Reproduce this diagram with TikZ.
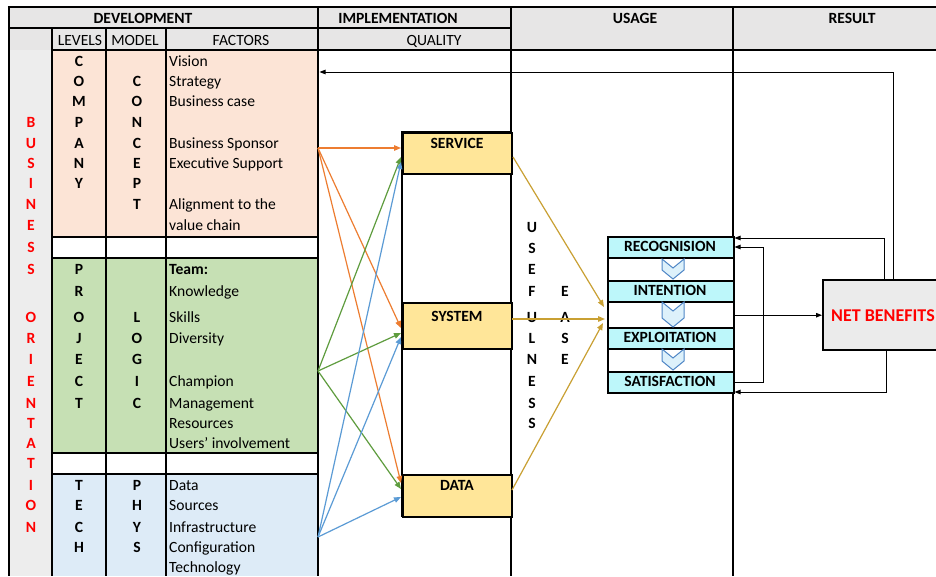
\documentclass[tikz,border=0pt]{standalone}
\usepackage{fontspec}
\setmainfont{Carlito}
\usetikzlibrary{arrows.meta,calc}
\definecolor{hdrgrey}{HTML}{E7E6E6}
\definecolor{sidegrey}{HTML}{EDEDED}
\definecolor{peach}{HTML}{FCE4D6}
\definecolor{leaf}{HTML}{C6E0B4}
\definecolor{sky}{HTML}{DDEBF7}
\definecolor{qualfill}{HTML}{FFE699}
\definecolor{aqua}{HTML}{BDF7FA}
\definecolor{chevfill}{HTML}{DDF1FB}
\definecolor{chevline}{HTML}{4F86C6}
\definecolor{orangeline}{HTML}{ED7D31}
\definecolor{greenline}{HTML}{5E9C3E}
\definecolor{blueline}{HTML}{5B9BD5}
\definecolor{goldline}{HTML}{C9A033}
\definecolor{alert}{HTML}{FF0000}
\definecolor{nbgrey}{HTML}{EBEBEB}
\newcommand\bodyfont{\fontsize{15.6pt}{18pt}\selectfont}
\begin{document}
\begin{tikzpicture}[x=1pt,y=-1pt,
  txt/.style={anchor=base,yshift=-5pt,inner sep=0pt,font=\bodyfont},
  btxt/.style={txt,font=\bodyfont\bfseries},
  ftxt/.style={txt,anchor=base west},
  redtxt/.style={btxt,text=alert},
  heavy/.style={line width=2.4pt},
  gridline/.style={line width=1.3pt},
  qualbox/.style={draw,line width=2.4pt,fill=qualfill,anchor=north west,minimum width=109pt,inner sep=0pt},
  stagebox/.style={draw,line width=2.4pt,fill=aqua,anchor=north west,minimum width=126pt,minimum height=21pt,inner sep=0pt},
  chev/.style={draw=chevline,fill=chevfill,line width=1pt,line join=miter},
  feed/.style={line width=1.2pt,-{Triangle[length=7pt,width=5.5pt]}},
  blk/.style={line width=1pt,black,-{Triangle[length=6pt,width=4.5pt]}}]
\useasboundingbox (0,0) rectangle (936,576);
\clip (0,0) rectangle (936,576);

% ---------- backgrounds ----------
\fill[hdrgrey] (9,7) rectangle (936,50);
\fill[sidegrey] (9,50) rectangle (52,576);
\fill[peach] (52,50) rectangle (318,237);
\fill[white] (52,237) rectangle (318,258);
\fill[leaf] (52,258) rectangle (318,453);
\fill[white] (52,453) rectangle (318,474);
\fill[sky] (52,474) rectangle (318,576);
\fill[white] (318,50) rectangle (936,576);

% ---------- table rules ----------
\draw[gridline] (52,28) -- (52,576);
\draw[gridline] (106,28) -- (106,576);
\draw[gridline] (166,28) -- (166,576);
\foreach \yy in {237,258,453,474}
  \draw[gridline] (52,\yy) -- (318,\yy);
\draw[heavy] (7.8,7) -- (936,7);
\draw[heavy] (9,7) -- (9,576);
\draw[heavy] (9,28) -- (511,28);
\draw[heavy] (52,50) -- (936,50);
\foreach \xx in {318,511,733}
  \draw[heavy] (\xx,7) -- (\xx,576);

% ---------- headers ----------
\node[btxt] (hdev) at (143,18) {DEVELOPMENT};
\node[btxt] (himp) at (398,18) {IMPLEMENTATION};
\node[btxt] (huse) at (635,18) {USAGE};
\node[btxt] (hres) at (852,18) {RESULT};
\node[txt] (hlev) at (80,40) {LEVELS};
\node[txt] (hmod) at (135,40) {MODEL};
\node[txt] (hfac) at (241,40) {FACTORS};
\node[txt] (hqual) at (434,40) {QUALITY};

% ---------- side title ----------
\foreach \ch/\yy [count=\i] in {B/122,U/143,S/163,I/183,N/204,E/225,S/247,S/269,
    O/317,R/338,I/359,E/381,N/403,T/423,A/443,T/463,I/485,O/505,N/527}
  \node[redtxt] (side\i) at (31,\yy) {\ch};

% ---------- levels ----------
\foreach \ch/\yy [count=\i] in {C/61,O/81,M/101,P/122,A/143,N/163,Y/183}
  \node[btxt] (company\i) at (79,\yy) {\ch};
\foreach \ch/\yy [count=\i] in {P/269,R/291,O/317,J/338,E/359,C/381,T/403}
  \node[btxt] (project\i) at (79,\yy) {\ch};
\foreach \ch/\yy [count=\i] in {T/485,E/505,C/527,H/547}
  \node[btxt] (tech\i) at (79,\yy) {\ch};

% ---------- model ----------
\foreach \ch/\yy [count=\i] in {C/81,O/101,N/122,C/143,E/163,P/183,T/204}
  \node[btxt] (concept\i) at (137,\yy) {\ch};
\foreach \ch/\yy [count=\i] in {L/317,O/338,G/359,I/381,C/403}
  \node[btxt] (logic\i) at (137,\yy) {\ch};
\foreach \ch/\yy [count=\i] in {P/485,H/505,Y/527,S/547}
  \node[btxt] (phys\i) at (137,\yy) {\ch};

% ---------- factors ----------
\foreach \t/\yy [count=\i] in {Vision/61,Strategy/81,Business case/101,
    Business Sponsor/143,Executive Support/163,Alignment to the/204,value chain/225}
  \node[ftxt] (fcomp\i) at (169,\yy) {\t};
\node[ftxt,font=\bodyfont\bfseries] (fteam) at (169,269) {Team:};
\foreach \t/\yy [count=\i] in {Knowledge/291,Skills/317,Diversity/338,Champion/381,
    Management/403,Resources/423,Users' involvement/443}
  \node[ftxt] (fproj\i) at (169,\yy) {\t};
\foreach \t/\yy [count=\i] in {Data/485,Sources/505,Infrastructure/527,
    Configuration/547,Technology/567}
  \node[ftxt] (ftech\i) at (169,\yy) {\t};

% ---------- quality ----------
\draw[heavy,fill=white] (402,132) rectangle (511,516);
\node[qualbox,minimum height=41pt] (srv) at (402,132) {};
\node[qualbox,minimum height=46pt] (sys) at (402,302) {};
\node[qualbox,minimum height=42pt] (dat) at (402,474) {};
\node[btxt] (lsrv) at (457,143) {SERVICE};
\node[btxt] (lsys) at (457,316) {SYSTEM};
\node[btxt] (ldat) at (457,485) {DATA};

% factor groups feeding quality dimensions
\coordinate (fromcomp) at (318,148);
\coordinate (fromproj) at (318,371);
\coordinate (fromtech) at (318,537);
\coordinate (srvo) at (401,148);
\coordinate (srvg) at (401,157);
\coordinate (srvb) at (401,162);
\coordinate (syso) at (401,328);
\coordinate (sysg) at (401,333);
\coordinate (sysb) at (401,337);
\coordinate (dato) at (401,483);
\coordinate (datg) at (401,489);
\coordinate (datb) at (401,497);
\foreach \tg in {srvo,syso,dato}
  \draw[feed,orangeline] (fromcomp) -- (\tg);
\foreach \tg in {srvg,sysg,datg}
  \draw[feed,greenline] (fromproj) -- (\tg);
\foreach \tg in {srvb,sysb,datb}
  \draw[feed,blueline] (fromtech) -- (\tg);

% ---------- usage ----------
\foreach \ch/\yy [count=\i] in {U/227,S/248,E/269,F/291,U/317,L/338,N/359,E/381,S/403,S/423}
  \node[btxt] (useful\i) at (532,\yy) {\ch};
\foreach \ch/\yy [count=\i] in {E/291,A/317,S/338,E/359}
  \node[btxt] (ease\i) at (565,\yy) {\ch};

\node[draw,line width=2.4pt,fill=white,anchor=north west,minimum width=126pt,
      minimum height=156pt,inner sep=0pt] (usebox) at (607,236) {};
\node[stagebox] (rec) at (607,236) {};
\node[stagebox] (int) at (607,280) {};
\node[stagebox] (exp) at (607,327) {};
\node[stagebox] (sat) at (607,371) {};
\node[btxt] (lrec) at (670,246) {RECOGNISION};
\node[btxt] (lint) at (670,290) {INTENTION};
\node[btxt] (lexp) at (670,337) {EXPLOITATION};
\node[btxt] (lsat) at (670,381) {SATISFACTION};

% chevrons between stages
\foreach \tp/\hh in {259/20,302/25,349/21}
  \draw[chev] (662,\tp) -- (673,\tp+9) -- (684,\tp) -- (684,\tp+\hh-9)
    -- (673,\tp+\hh) -- (662,\tp+\hh-9) -- cycle;

% quality dimensions driving usage
\coordinate (gsrv) at (513,157);
\coordinate (gsys) at (512,319);
\coordinate (gdat) at (512,490);
\coordinate (gin1) at (604,307);
\coordinate (gin2) at (605,319);
\coordinate (gin3) at (603,323);
\draw[feed,goldline] (gsrv) -- (gin1);
\draw[feed,goldline] (gsys) -- (gin2);
\draw[feed,goldline] (gdat) -- (gin3);

% ---------- result ----------
\node[draw,line width=2.4pt,fill=nbgrey,anchor=north west,minimum width=150pt,
      minimum height=70pt,inner sep=0pt] (nb) at (822,279) {};
\node[anchor=base west,yshift=-6pt,inner sep=0pt,text=alert,
      font=\fontsize{18pt}{21pt}\selectfont\bfseries] (lnb) at (831,315) {NET BENEFITS};

\coordinate (recA) at (734.5,238);
\coordinate (recB) at (734.5,247);
\coordinate (satA) at (734,382);
\coordinate (satB) at (734.5,392);
\coordinate (visA) at (319.5,72);
\draw[blk] (usebox.east) -- (nb.west);
\draw[blk] ([xshift=62pt]nb.north west) |- (recA);
\draw[blk] ([xshift=71pt]nb.north west) |- (visA);
\draw[blk] ([xshift=64pt]nb.south west) |- (satB);
\draw[blk] (satA) -- (763,382) -- (763,247) -- (recB);
\end{tikzpicture}
\end{document}
